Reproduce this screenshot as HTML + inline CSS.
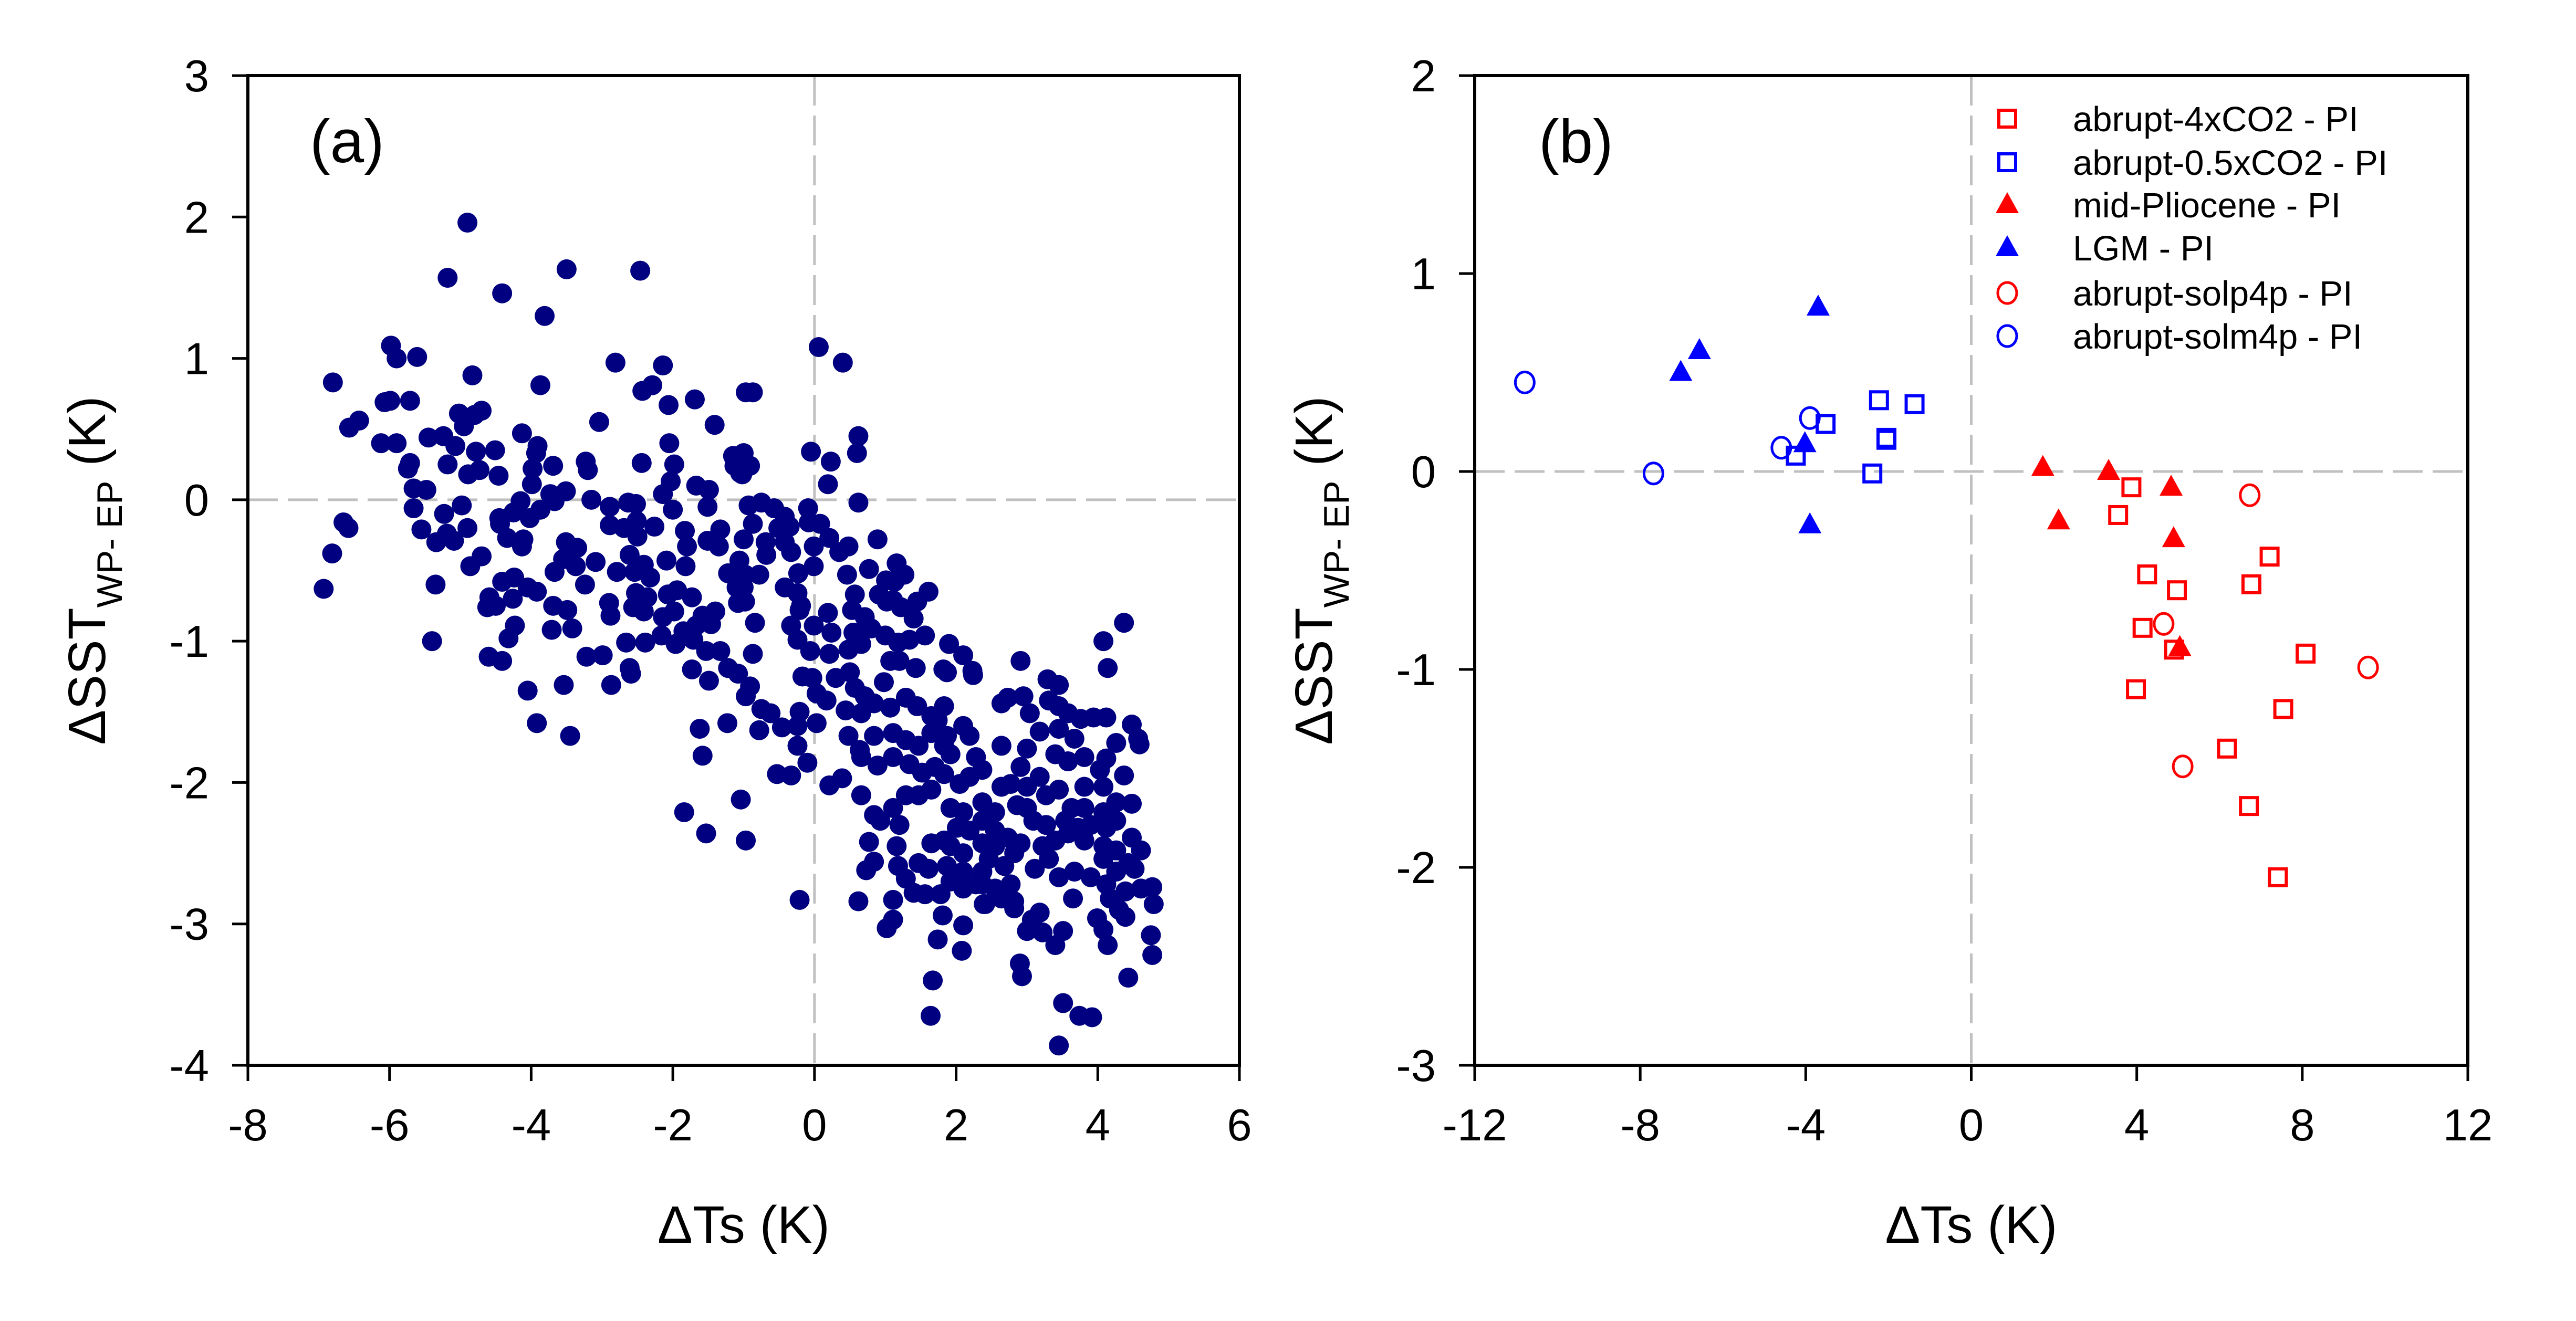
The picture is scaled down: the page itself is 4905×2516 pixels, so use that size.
<!DOCTYPE html>
<html>
<head>
<meta charset="utf-8">
<style>
  html, body { margin: 0; padding: 0; background: #ffffff; }
  svg { display: block; }
  text { font-family: "Liberation Sans", Arial, sans-serif; fill: #000; }
</style>
</head>
<body>
<svg id="fig" width="4905" height="2516" viewBox="0 0 4905 2516" xmlns="http://www.w3.org/2000/svg">
  <rect x="0" y="0" width="4905" height="2516" fill="#ffffff"/>
  <g id="panelA"></g>
  <g id="panelB"></g>
</svg>
<script>
// ---------- Panel (a) data ----------
const aX = [
-4.90,-5.18,-3.50,-2.46,-4.41,-3.81,-5.98,-5.90,-5.61,-6.80,-4.83,-3.87,-2.81,-2.14,-2.43,-2.29,-2.06,-1.69,-0.97,-1.41,-3.04,
-6.07,-5.99,-5.71,-6.57,-6.43,-6.12,-5.90,-5.02,-4.70,-4.80,-4.95,-5.45,-5.24,-5.07,-4.78,-4.51,-5.18,-5.71,-5.74,-4.89,-4.73,-4.46,
-4.13,-3.91,-3.93,-3.98,-3.69,-3.99,-3.23,-3.20,-2.44,-2.05,-1.98,-2.03,-2.14,-1.15,-1.13,-1.05,-1.67,-1.49,-1.51,-5.66,-5.48,-5.66,
-5.23,-4.98,-4.90,-5.55,-5.34,-5.19,-5.09,-6.65,-6.58,-6.81,-6.93,-5.35,-5.40,-4.86,-4.70,-4.15,-4.25,-4.45,-4.44,-4.02,-3.87,
-3.73,-3.51,-3.67,-4.34,-4.11,-4.13,-3.15,-2.89,-2.63,-2.52,-2.89,-2.69,-2.51,-2.50,-2.26,-2.00,-1.83,-1.33,-1.51,-1.35,
-3.51,-3.35,-3.55,-3.37,-3.67,-3.24,-3.09,-4.41,-4.24,-4.05,-3.92,-4.26,-4.59,-4.62,-4.50,-3.69,-3.49,-3.71,-3.42,
-4.23,-4.32,-4.60,-4.41,-2.90,-2.88,-2.66,-2.39,-3.22,-2.99,-2.61,-2.41,-2.79,-2.54,-2.32,-2.09,-1.82,-1.80,
-2.52,-2.36,-2.56,-2.41,-2.07,-1.94,-1.73,-1.98,-2.14,-1.58,-1.40,-1.67,-1.46,-1.85,-1.71,-2.16,-1.96,-1.53,-1.33,
-1.10,-1.22,-1.06,-1.08,-2.61,
0.06,0.40,-0.87,0.62,0.60,-0.05,0.23,0.19,0.62,0.89,-0.09,-0.08,0.08,-1.00,-0.91,-1.02,
-0.93,-0.75,-0.57,-0.42,-0.35,-0.51,-0.87,-1.00,-0.69,-0.68,-0.42,-0.33,-0.01,0.21,0.35,0.48,-0.01,-0.23,0.46,0.77,
1.16,1.27,1.01,1.13,1.61,1.45,1.40,0.57,0.91,1.02,1.11,1.22,-0.98,-0.78,-1.00,-0.98,-0.84,-0.87,
-0.42,-0.24,-0.19,-0.21,0.19,0.53,-0.33,-0.01,0.24,0.55,0.71,0.80,1.00,1.18,1.34,1.56,1.90,2.10,
-0.24,-0.06,0.21,0.48,0.66,4.37,4.08,2.91,1.07,1.20,1.43,4.14,1.82,2.23,
-2.87,-2.59,-3.54,-4.05,-3.92,-3.45,-1.73,-1.49,-1.22,-1.08,-0.97,-1.62,-1.23,-1.58,-1.04,-1.84,-1.53,-0.97,
2.24,-0.91,-0.75,-0.62,-0.78,-0.46,-0.21,-0.24,-0.24,-0.10,0.03,-0.53,-0.33,0.21,0.39,-0.17,0.03,-0.03,0.17,
0.30,0.50,0.57,0.71,0.44,0.66,0.48,0.64,0.98,0.84,1.07,1.29,1.45,1.65,0.84,1.11,1.29,1.47,1.65,1.83,1.74,
0.66,0.89,1.11,1.34,1.52,1.70,1.92,0.66,0.84,0.93,1.11,1.20,1.29,1.47,1.65,1.83,2.05,2.19,
1.87,2.10,2.19,2.28,2.37,1.87,1.83,0.77,0.84,0.73,1.16,1.18,1.29,1.47,1.61,1.40,1.56,1.78,1.65,1.83,
1.92,2.10,2.01,2.19,1.92,2.10,1.87,2.10,1.92,2.10,2.28,2.37,
2.37,2.55,2.37,2.55,2.37,2.55,2.73,2.46,2.68,2.82,2.64,2.77,2.91,3.00,
2.37,2.55,2.77,2.82,2.41,2.64,2.64,2.73,2.95,3.04,2.64,3.00,3.18,
3.29,3.45,3.31,3.45,3.58,3.76,3.94,4.12,3.45,3.67,4.48,4.57,4.59,4.26,4.12,4.37,4.48,
3.40,3.58,3.81,4.03,3.81,4.08,3.18,3.27,3.45,3.63,3.81,4.08,4.26,
2.86,3.00,3.09,3.27,3.54,3.72,3.90,4.12,4.26,2.91,3.22,3.40,3.58,3.81,4.08,4.26,4.48,4.61,
3.11,3.31,3.45,3.67,3.90,4.08,4.26,4.43,4.61,4.77,4.52,4.12,4.17,4.39,4.30,4.39,4.79,3.65,
2.39,2.82,3.18,3.07,3.00,3.22,3.51,3.40,3.99,4.08,4.14,4.75,4.77,4.43,
1.81,2.10,1.74,2.08,1.11,1.11,1.02,0.62,-0.21,2.90,2.93,1.67,1.64,3.51,3.74,3.92,3.45
];
const aY = [
1.96,1.57,1.63,1.62,1.46,1.30,1.09,1.00,1.01,0.83,0.88,0.81,0.97,0.95,0.77,0.81,0.67,0.71,0.76,0.53,0.55,
0.69,0.70,0.70,0.51,0.56,0.40,0.40,0.61,0.63,0.60,0.52,0.44,0.45,0.38,0.34,0.35,0.25,0.26,0.22,0.18,0.21,0.17,
0.47,0.38,0.33,0.22,0.24,0.11,0.27,0.21,0.26,0.40,0.25,0.13,0.04,0.31,0.24,0.19,0.10,0.07,-0.05,0.08,0.07,-0.06,
-0.10,-0.04,-0.20,-0.21,-0.30,-0.24,-0.29,-0.16,-0.20,-0.38,-0.63,-0.60,-1.00,-0.47,-0.40,-0.01,-0.09,-0.13,-0.17,-0.13,-0.07,
0.04,0.06,-0.01,-0.27,-0.28,-0.33,0.00,-0.05,-0.02,-0.03,-0.18,-0.20,-0.15,-0.26,-0.19,-0.07,-0.22,-0.21,-0.29,-0.33,
-0.30,-0.34,-0.42,-0.47,-0.51,-0.60,-0.44,-0.58,-0.55,-0.62,-0.65,-0.70,-0.69,-0.76,-0.75,-0.75,-0.78,-0.92,-0.91,
-0.89,-0.98,-1.11,-1.14,-0.73,-0.82,-1.01,-1.01,-1.11,-1.10,-0.39,-0.46,-0.51,-0.51,-0.55,-0.43,-0.47,-0.33,
-0.66,-0.69,-0.76,-0.79,-0.67,-0.64,-0.69,-0.79,-0.83,-0.82,-0.79,-0.89,-0.88,-0.93,-0.99,-0.96,-1.02,-1.07,-1.07,
-0.62,-0.52,-0.43,-0.73,-1.19,
1.08,0.97,0.76,0.45,0.33,0.34,0.27,0.11,-0.02,-0.28,-0.06,-0.16,-0.17,0.33,0.24,0.18,
-0.04,-0.02,-0.06,-0.12,-0.19,-0.20,-0.17,-0.28,-0.30,-0.39,-0.30,-0.37,-0.33,-0.27,-0.37,-0.33,-0.47,-0.52,-0.53,-0.49,
-0.45,-0.53,-0.57,-0.58,-0.65,-0.72,-0.84,-0.67,-0.67,-0.72,-0.71,-0.76,-0.53,-0.53,-0.62,-0.72,-0.87,-1.09,
-0.62,-0.66,-0.75,-0.78,-0.80,-0.78,-0.89,-0.89,-0.94,-0.94,-0.83,-0.91,-0.96,-1.01,-0.99,-0.96,-1.02,-1.10,
-0.99,-1.07,-1.09,-1.06,-1.02,-0.87,-1.00,-1.14,-1.14,-1.14,-1.19,-1.19,-1.20,-1.21,
-1.31,-1.23,-1.31,-1.35,-1.58,-1.67,-1.20,-1.28,-1.19,-1.23,-1.39,-1.62,-1.58,-1.81,-2.12,-2.21,-2.36,-2.41,
-1.24,-1.32,-1.48,-1.51,-1.63,-1.61,-1.50,-1.60,-1.74,-1.86,-1.58,-1.94,-1.95,-2.02,-1.97,-1.25,-1.37,-1.26,-1.42,
-1.26,-1.22,-1.33,-1.39,-1.49,-1.51,-1.67,-1.77,-1.29,-1.44,-1.47,-1.40,-1.46,-1.53,-1.67,-1.65,-1.70,-1.74,-1.65,-1.74,-1.56,
-1.82,-1.88,-1.82,-1.87,-1.93,-1.89,-1.80,-2.09,-2.23,-2.27,-2.18,-2.30,-2.09,-2.09,-2.05,-1.94,-2.01,-1.96,
-1.67,-1.60,-1.67,-1.82,-1.91,-1.22,-1.46,-2.42,-2.56,-2.62,-2.45,-2.59,-2.68,-2.57,-2.61,-2.78,-2.79,-2.79,-2.43,-2.41,
-2.18,-2.21,-2.32,-2.34,-2.45,-2.50,-2.59,-2.63,-2.70,-2.75,-2.72,-2.63,
-2.14,-2.21,-2.27,-2.34,-2.43,-2.45,-2.39,-2.54,-2.59,-2.50,-2.03,-2.01,-1.89,-2.03,
-2.72,-2.75,-2.72,-2.84,-2.86,-2.82,-1.44,-1.40,-1.39,-1.51,-1.74,-1.76,-1.64,
-1.27,-1.31,-1.42,-1.46,-1.51,-1.55,-1.54,-1.54,-1.62,-1.69,-1.59,-1.69,-1.73,-1.72,-1.83,-1.95,-2.15,
-1.80,-1.85,-1.82,-1.91,-2.03,-2.03,-1.96,-2.09,-2.05,-2.18,-2.18,-2.21,-2.14,
-2.16,-2.18,-2.27,-2.30,-2.27,-2.32,-2.30,-2.32,-2.27,-2.43,-2.45,-2.41,-2.36,-2.41,-2.45,-2.48,-2.39,-2.48,
-2.61,-2.54,-2.67,-2.63,-2.67,-2.54,-2.63,-2.57,-2.75,-2.74,-2.61,-2.72,-2.82,-2.77,-2.90,-2.95,-2.86,-2.82,
-2.86,-2.89,-2.92,-2.97,-3.05,-3.06,-3.05,-3.15,-2.96,-3.04,-3.15,-3.08,-3.22,-3.38,
-2.94,-3.01,-3.11,-3.19,-2.83,-2.97,-3.03,-2.84,-2.83,-3.28,-3.37,-3.40,-3.65,-3.56,-3.65,-3.66,-3.86
];
const aXTicks = [-8,-6,-4,-2,0,2,4,6];
const aYTicks = [-4,-3,-2,-1,0,1,2,3];

// ---------- Panel (b) data ----------
const sq4xX  = [3.87,3.55,7.21,4.25,4.97,6.77,4.14,4.90,8.08,3.98,7.54,6.18,6.71,7.41];
const sq4xY  = [-0.08,-0.22,-0.43,-0.52,-0.60,-0.57,-0.79,-0.90,-0.92,-1.10,-1.20,-1.40,-1.69,-2.05];
const sqHalfX = [-2.23,-1.37,-3.52,-2.05,-2.05,-4.24,-2.39];
const sqHalfY = [0.36,0.34,0.24,0.17,0.16,0.08,-0.01];
const plioX = [1.73,3.32,4.83,2.11,4.89,5.04];
const plioY = [0.02,0.00,-0.08,-0.25,-0.34,-0.89];
const lgmX = [-3.70,-6.57,-7.02,-4.02,-3.90];
const lgmY = [0.83,0.61,0.50,0.14,-0.27];
const solpX = [6.73,4.65,9.59,5.11];
const solpY = [-0.12,-0.77,-0.99,-1.49];
const solmX = [-10.79,-7.68,-3.90,-4.59];
const solmY = [0.45,-0.01,0.27,0.12];
const bXTicks = [-12,-8,-4,0,4,8,12];
const bYTicks = [-3,-2,-1,0,1,2];
const legendLabels = ["abrupt-4xCO2 - PI","abrupt-0.5xCO2 - PI","mid-Pliocene - PI","LGM - PI","abrupt-solp4p - PI","abrupt-solm4p - PI"];

const NS = "http://www.w3.org/2000/svg";
function mk(tag, attrs, parent) {
  const e = document.createElementNS(NS, tag);
  for (const k in attrs) e.setAttribute(k, attrs[k]);
  parent.appendChild(e);
  return e;
}

const A = { l: 472, r: 2360, t: 144, b: 2029, x0: -8, x1: 6, y0: -4, y1: 3 };
const B = { l: 2808, r: 4699, t: 144, b: 2029, x0: -12, x1: 12, y0: -3, y1: 2 };
function sx(P, v) { return P.l + (v - P.x0) / (P.x1 - P.x0) * (P.r - P.l); }
function sy(P, v) { return P.b - (v - P.y0) / (P.y1 - P.y0) * (P.b - P.t); }

function drawAxes(P, g, xTicks, yTicks, key) {
  const zx = mk('line', {x1: sx(P,0), x2: sx(P,0), y1: P.t, y2: P.b, stroke: '#c0c0c0', 'stroke-width': 5, 'stroke-dasharray': '57 19'}, g);
  
  
  const zy = mk('line', {x1: P.l, x2: P.r, y1: sy(P,0), y2: sy(P,0), stroke: '#c0c0c0', 'stroke-width': 5, 'stroke-dasharray': '57 19'}, g);
  
  
  const fr = mk('rect', {x: P.l, y: P.t, width: P.r - P.l, height: P.b - P.t, fill: 'none', stroke: '#000', 'stroke-width': 6}, g);
  
  
  xTicks.forEach(v => {
    const x = sx(P, v);
    const t = mk('line', {x1: x, x2: x, y1: P.b, y2: P.b + 30, stroke: '#000', 'stroke-width': 5}, g);
    
    
    const lb = mk('text', {x: x, y: 2172, 'font-size': 85, 'text-anchor': 'middle'}, g);
    lb.textContent = String(v);
    
    
  });
  yTicks.forEach(v => {
    const y = sy(P, v);
    const t = mk('line', {x1: P.l - 30, x2: P.l, y1: y, y2: y, stroke: '#000', 'stroke-width': 5}, g);
    
    
    const lb = mk('text', {x: P.l - 74, y: y + 30, 'font-size': 85, 'text-anchor': 'end'}, g);
    lb.textContent = String(v);
    
    
  });
  const cx = (P.l + P.r) / 2;
  const xt = mk('text', {x: cx, y: 2367, 'font-size': 100, 'text-anchor': 'middle'}, g);
  xt.textContent = 'ΔTs (K)';
  
  
  const ty = (P.t + P.b) / 2;
  const tx = P.l - 272;
  const yt = mk('text', {x: 0, y: 0, 'font-size': 100, 'text-anchor': 'middle', transform: 'translate(' + tx + ',' + ty + ') rotate(-90)'}, g);
  
  
  const t1 = mk('tspan', {}, yt); t1.textContent = 'ΔSST';
  const t2 = mk('tspan', {'font-size': 68, dy: 32}, yt); t2.textContent = 'WP- EP';
  const t3 = mk('tspan', {dy: -32}, yt); t3.textContent = ' (K)';
}

// ---------- draw panel (a) ----------
const gA = document.getElementById('panelA');
drawAxes(A, gA, aXTicks, aYTicks, 'panel-a');
const dotsA = mk('g', {fill: '#000080'}, gA);


for (let i = 0; i < aX.length; i++) {
  const c = mk('circle', {cx: sx(A, aX[i]), cy: sy(A, aY[i]), r: 19}, dotsA);
  
  
}
const la = mk('text', {x: 590, y: 309, 'font-size': 116}, gA);
la.textContent = '(a)';



// ---------- draw panel (b) ----------
const gB = document.getElementById('panelB');
drawAxes(B, gB, bXTicks, bYTicks, 'panel-b');
const lb = mk('text', {x: 2930, y: 309, 'font-size': 116}, gB);
lb.textContent = '(b)';



function marker(type, color, x, y, parent) {
  let e;
  if (type === 'square') {
    e = mk('rect', {x: x - 16, y: y - 16, width: 32, height: 32, fill: 'none', stroke: color, 'stroke-width': 6}, parent);
  } else if (type === 'triangle') {
    e = mk('polygon', {points: (x) + ',' + (y - 24) + ' ' + (x - 22) + ',' + (y + 16) + ' ' + (x + 22) + ',' + (y + 16), fill: color}, parent);
  } else {
    e = mk('ellipse', {cx: x, cy: y, rx: 18, ry: 20, fill: 'none', stroke: color, 'stroke-width': 5}, parent);
  }
  return e;
}
const seriesB = [
  {name: 'abrupt-4xco2', xs: sq4xX, ys: sq4xY, type: 'square', color: '#ff0000'},
  {name: 'abrupt-0.5xco2', xs: sqHalfX, ys: sqHalfY, type: 'square', color: '#0000ff'},
  {name: 'mid-pliocene', xs: plioX, ys: plioY, type: 'triangle', color: '#ff0000'},
  {name: 'lgm', xs: lgmX, ys: lgmY, type: 'triangle', color: '#0000ff'},
  {name: 'abrupt-solp4p', xs: solpX, ys: solpY, type: 'circle', color: '#ff0000'},
  {name: 'abrupt-solm4p', xs: solmX, ys: solmY, type: 'circle', color: '#0000ff'}
];
seriesB.forEach(s => {
  const g = mk('g', {}, gB);
  
  
  for (let i = 0; i < s.xs.length; i++) {
    const m = marker(s.type, s.color, sx(B, s.xs[i]), sy(B, s.ys[i]), g);
    
    
  }
});

const legY = [226, 309, 390, 472, 558, 640];
const gL = mk('g', {}, gB);


seriesB.forEach((s, i) => {
  const m = marker(s.type, s.color, 3822, legY[i], gL);
  
  
  const t = mk('text', {x: 3947, y: legY[i] + 24, 'font-size': 67}, gL);
  t.textContent = legendLabels[i];
  
  
});
</script>
</body>
</html>
